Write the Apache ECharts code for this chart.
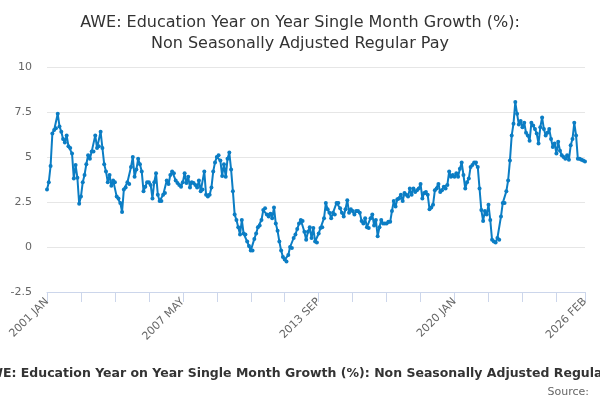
<!DOCTYPE html>
<html>
<head>
    <meta charset="utf-8">
    <title>AWE Education</title>
    <script src="https://cdn.jsdelivr.net/npm/echarts@6/dist/echarts.min.js"></script>
    <style>
        html, body { margin: 0; padding: 0; background: #fff; }
        #chart { width: 600px; height: 400px; }
    </style>
</head>
<body>
    <div id="chart"></div>

    <script>
        // monthly values, one array per year
        var y2001 = [3.2, 3.6, 4.5, 6.3, 6.5, 6.6, 7.4, 6.7, 6.4, 6.0, 5.8, 6.2];
        var y2002 = [5.6, 5.5, 5.2, 3.8, 4.55, 3.85, 2.4, 2.8, 3.6, 4.0, 4.6, 5.1];
        var y2003 = [4.9, 5.3, 5.3, 6.2, 5.5, 5.6, 6.4, 5.5, 4.6, 4.2, 3.6, 4.0];
        var y2004 = [3.4, 3.7, 3.6, 2.8, 2.7, 2.45, 1.95, 3.2, 3.3, 3.6, 3.5, 4.45];
        var y2005 = [5.0, 3.9, 4.3, 4.9, 4.6, 4.2, 3.1, 3.35, 3.6, 3.6, 3.45, 2.7];
        var y2006 = [3.6, 4.1, 2.9, 2.55, 2.55, 2.9, 3.0, 3.7, 3.5, 4.0, 4.2, 4.1];
        var y2007 = [3.7, 3.55, 3.45, 3.35, 3.6, 4.1, 3.55, 3.9, 3.3, 3.6, 3.55, 3.45];
        var y2008 = [3.3, 3.7, 3.1, 3.2, 4.2, 2.9, 2.8, 2.9, 3.3, 4.2, 4.7, 5.0];
        var y2009 = [5.1, 4.8, 3.95, 4.6, 3.9, 4.9, 5.25, 4.3, 3.1, 1.8, 1.5, 1.1];
        var y2010 = [0.7, 1.5, 0.75, 0.7, 0.3, 0.05, -0.2, -0.2, 0.45, 0.75, 1.1, 1.2];
        var y2011 = [1.5, 2.05, 2.15, 1.8, 1.7, 1.85, 1.6, 2.2, 1.3, 0.9, 0.3, -0.2];
        var y2012 = [-0.55, -0.7, -0.8, -0.45, 0.0, -0.05, 0.5, 0.7, 1.0, 1.3, 1.5, 1.45];
        var y2013 = [0.85, 0.4, 0.85, 1.1, 0.5, 1.05, 0.3, 0.25, 0.75, 1.05, 1.1, 1.6];
        var y2014 = [2.45, 2.1, 1.9, 1.6, 1.9, 1.8, 2.45, 2.45, 2.15, 1.9, 1.7, 2.1];
        var y2015 = [2.6, 1.9, 2.1, 2.0, 1.8, 2.0, 2.0, 1.9, 1.45, 1.3, 1.6, 1.1];
        var y2016 = [1.05, 1.6, 1.8, 1.2, 1.5, 0.6, 1.1, 1.5, 1.3, 1.3, 1.3, 1.4];
        var y2017 = [1.4, 2.0, 2.55, 2.25, 2.65, 2.7, 2.9, 2.55, 3.0, 2.9, 2.8, 3.25];
        var y2018 = [2.9, 3.25, 3.05, 3.15, 3.25, 3.5, 2.7, 3.0, 3.05, 2.9, 2.1, 2.2];
        var y2019 = [2.35, 3.15, 3.25, 3.5, 3.05, 3.15, 3.35, 3.25, 3.45, 4.2, 3.9, 4.0];
        var y2020 = [3.9, 4.1, 3.9, 4.35, 4.7, 4.0, 3.25, 3.6, 3.8, 4.45, 4.55, 4.7];
        var y2021 = [4.7, 4.45, 3.25, 2.05, 1.45, 2.0, 1.8, 2.35, 1.5, 0.4, 0.3, 0.25];
        var y2022 = [0.5, 0.4, 1.7, 2.45, 2.45, 3.1, 3.7, 4.8, 6.2, 6.85, 8.05, 7.4];
        var y2023 = [6.8, 7.0, 6.65, 6.9, 6.35, 6.2, 5.9, 6.9, 6.75, 6.55, 6.3, 5.75];
        var y2024 = [6.65, 7.2, 6.55, 6.2, 6.35, 6.55, 6.0, 5.55, 5.75, 5.2, 5.85, 5.35];
        var y2025 = [5.1, 5.0, 4.9, 5.1, 4.85, 5.65, 6.0, 6.9, 6.2, 4.9, 4.9, 4.85];
        var y2026 = [4.8, 4.75];

        var firstYear = 2001;
        var monthNames = ['JAN', 'FEB', 'MAR', 'APR', 'MAY', 'JUN', 'JUL', 'AUG', 'SEP', 'OCT', 'NOV', 'DEC'];
        var yTicks = [-2.5, 0, 2.5, 5, 7.5, 10];

        var titleText = 'AWE: Education Year on Year Single Month Growth (%):\nNon Seasonally Adjusted Regular Pay';
        var captionText = 'AWE: Education Year on Year Single Month Growth (%): Non Seasonally Adjusted Regular Pay';

        var values = [].concat(y2001, y2002, y2003, y2004, y2005, y2006, y2007, y2008, y2009,
            y2010, y2011, y2012, y2013, y2014, y2015, y2016, y2017, y2018, y2019,
            y2020, y2021, y2022, y2023, y2024, y2025, y2026);

        var categories = values.map(function (v, i) {
            return (firstYear + Math.floor(i / 12)) + ' ' + monthNames[i % 12];
        });
        var last = categories.length - 1;

        var chart = echarts.init(document.getElementById('chart'));

        var option = {
            animation: false,
            textStyle: { fontFamily: 'DejaVu Sans' },
            title: {
                text: titleText,
                left: 'center',
                top: 7,
                textStyle: { fontSize: 16, fontWeight: 'normal', color: '#333333', lineHeight: 21 }
            },
            grid: { left: 47, right: 15, top: 67, bottom: 108, containLabel: false },
            xAxis: {
                type: 'category',
                data: categories,
                boundaryGap: false,
                axisLine: { onZero: false, lineStyle: { color: '#ccd6eb', width: 1 } },
                axisTick: {
                    length: 10,
                    inside: false,
                    lineStyle: { color: '#ccd6eb' },
                    interval: function (i) { return i % 19 === 0 || i === last; }
                },
                axisLabel: {
                    rotate: 45,
                    margin: 8,
                    color: '#666666',
                    fontSize: 11,
                    interval: function (i) { return i % 76 === 0 || i === last; }
                }
            },
            yAxis: {
                type: 'value',
                min: yTicks[0],
                max: yTicks[yTicks.length - 1],
                interval: 2.5,
                axisLine: { show: false },
                axisTick: { show: false },
                axisLabel: { color: '#666666', fontSize: 11, margin: 15 },
                splitLine: { lineStyle: { color: '#e6e6e6' } }
            },
            series: [{
                type: 'line',
                data: values,
                symbol: 'circle',
                symbolSize: 4,
                showAllSymbol: true,
                lineStyle: { color: '#0b7dc4', width: 2 },
                itemStyle: { color: '#0b7dc4' }
            }],
            graphic: [
                {
                    type: 'text',
                    x: 309,
                    y: 374,
                    style: {
                        text: captionText,
                        align: 'center',
                        verticalAlign: 'middle',
                        font: 'bold 12.5px "DejaVu Sans"',
                        fill: '#333333'
                    }
                },
                {
                    type: 'text',
                    x: 589,
                    y: 392,
                    style: {
                        text: 'Source:',
                        align: 'right',
                        verticalAlign: 'middle',
                        font: '11px "DejaVu Sans"',
                        fill: '#666666'
                    }
                }
            ]
        };
        chart.setOption(option);
    </script>
</body>
</html>
